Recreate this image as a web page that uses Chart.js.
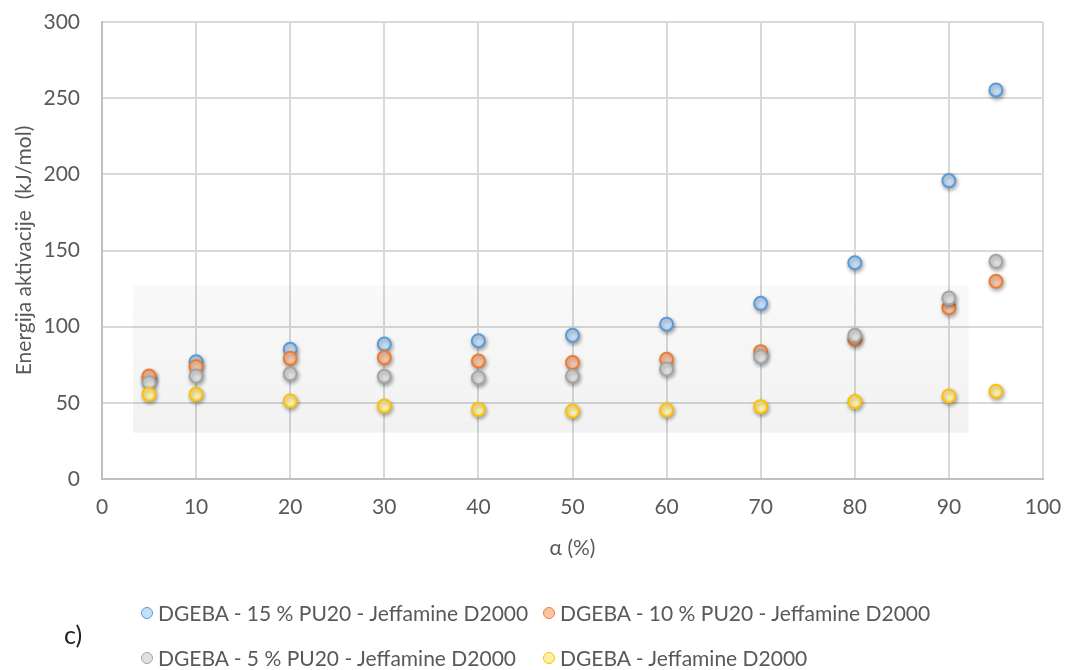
<!DOCTYPE html>
<html>
<head>
<meta charset="utf-8">
<script src="https://cdn.jsdelivr.net/npm/chart.js@4.4.1/dist/chart.umd.min.js"></script>
<style>
  body { margin: 0; background: #fff; }
  #wrap { position: relative; width: 1067px; height: 670px; font-family: Lato, "Open Sans", sans-serif; }
  #chart { position: absolute; left: 0; top: 0; }
  .item { position: absolute; height: 26px; line-height: 26px; display: flex; align-items: center;
          font-size: 21px; color: #595959; white-space: nowrap; }
  .dot { width: 10px; height: 10px; border-radius: 50%; border: 1.5px solid; margin-right: 5px; }
  #tag { position: absolute; left: 64px; top: 619px; font-size: 25px; line-height: 30px; color: #222; }
</style>
</head>
<body>
<div id="wrap">
  <canvas id="chart" width="1067" height="670"></canvas>
  <div id="legend"></div>
  <div id="tag">c)</div>
</div>
<script>
// conversion degree (%)
const alpha = [5, 10, 20, 30, 40, 50, 60, 70, 80, 90, 95];

// activation energy (kJ/mol) for each formulation
const ea15 = [66.5, 77.0, 85.1, 88.6, 90.8, 94.3, 101.6, 115.3, 142.0, 195.9, 255.4];
const ea10 = [67.6, 73.7, 79.2, 79.7, 77.5, 76.4, 78.6, 83.6, 91.7, 112.5, 129.8];
const ea5  = [63.2, 67.6, 69.1, 67.4, 66.5, 67.6, 72.2, 80.3, 94.3, 118.8, 142.9];
const ea0  = [55.6, 55.6, 51.2, 47.9, 45.7, 44.6, 45.3, 47.5, 50.8, 54.5, 57.6];

const seriesNames = [
  'DGEBA - 15 % PU20 - Jeffamine D2000',
  'DGEBA - 10 % PU20 - Jeffamine D2000',
  'DGEBA - 5 % PU20 - Jeffamine D2000',
  'DGEBA - Jeffamine D2000'
];

const xTicks = [0, 10, 20, 30, 40, 50, 60, 70, 80, 90, 100];
const yTicks = [0, 50, 100, 150, 200, 250, 300];

const lineColors = ['#5b9bd5', '#ed7d31', '#a5a5a5', '#ffc000'];
const fillColors = ['#c6def6', '#f8c4a8', '#e0e0e0', '#fff0a6'];

const txt = '#595959';
const font = { family: 'Lato, "Open Sans", sans-serif', size: 21 };

// pale panel behind the low-energy points (data units)
const panel = { x0: 3.3, x1: 92.1, y0: 30.4, y1: 127.4 };

const panelPlugin = {
  id: 'panel',
  beforeDatasetsDraw(chart) {
    const { ctx, scales: { x, y } } = chart;
    const l = x.getPixelForValue(panel.x0), r = x.getPixelForValue(panel.x1);
    const t = y.getPixelForValue(panel.y1), b = y.getPixelForValue(panel.y0);
    const g = ctx.createLinearGradient(0, t, 0, b);
    g.addColorStop(0, 'rgba(0,0,0,0.025)');
    g.addColorStop(1, 'rgba(0,0,0,0.05)');
    ctx.save();
    ctx.fillStyle = g;
    ctx.fillRect(l, t, r - l, b - t);
    ctx.restore();
  }
};

const shadowPlugin = {
  id: 'pointShadow',
  beforeDatasetDraw(chart) {
    const c = chart.ctx;
    c.save();
    c.shadowColor = 'rgba(0,0,0,0.35)';
    c.shadowBlur = 4;
    c.shadowOffsetX = 1;
    c.shadowOffsetY = 2;
  },
  afterDatasetDraw(chart) {
    chart.ctx.restore();
  }
};

const series = [ea15, ea10, ea5, ea0];

// tick marks are kept invisible; their length only spaces the labels from the axis
const gridOpts = len => ({
  color: '#d9d9d9', lineWidth: 2, drawTicks: true, tickLength: len, tickColor: 'rgba(0,0,0,0)'
});

const chart = new Chart(document.getElementById('chart'), {
  type: 'scatter',
  data: {
    datasets: series.map((vals, i) => ({
      label: seriesNames[i],
      data: alpha.map((a, k) => ({ x: a, y: vals[k] })),
      pointRadius: 6.5,
      pointHoverRadius: 6.5,
      pointBorderWidth: 2,
      borderColor: lineColors[i],
      backgroundColor: fillColors[i],
      order: series.length - i
    }))
  },
  options: {
    responsive: false,
    animation: false,
    layout: { padding: { top: 22, right: 24, bottom: 100, left: 0 } },
    plugins: {
      legend: { display: false },
      tooltip: { enabled: false }
    },
    scales: {
      x: {
        type: 'linear',
        min: xTicks[0],
        max: xTicks[xTicks.length - 1],
        afterBuildTicks: s => { s.ticks = xTicks.map(v => ({ value: v })); },
        afterFit: s => { s.height = 91; },
        ticks: { color: txt, font, padding: 0, maxRotation: 0 },
        grid: gridOpts(16),
        border: { color: '#bfbfbf', width: 2 },
        title: { display: true, text: 'α (%)', color: txt, font, padding: { top: 0, bottom: 9 } }
      },
      y: {
        type: 'linear',
        min: yTicks[0],
        max: yTicks[yTicks.length - 1],
        afterBuildTicks: s => { s.ticks = yTicks.map(v => ({ value: v })); },
        afterFit: s => { s.width = 102; },
        ticks: { color: txt, font, padding: 0 },
        grid: gridOpts(22),
        border: { color: '#bfbfbf', width: 2 },
        title: { display: true, text: 'Energija aktivacije  (kJ/mol)', color: txt, font, padding: { top: 12, bottom: 0 } }
      }
    }
  },
  plugins: [panelPlugin, shadowPlugin]
});

// two-column legend under the plot
const legend = document.getElementById('legend');
const colLeft = [141, 543];
const rowTop = [600, 645];
chart.data.datasets.forEach((ds, i) => {
  const item = document.createElement('div');
  item.className = 'item';
  item.style.left = colLeft[i % 2] + 'px';
  item.style.top = rowTop[Math.floor(i / 2)] + 'px';
  const dot = document.createElement('span');
  dot.className = 'dot';
  dot.style.borderColor = ds.borderColor;
  dot.style.background = ds.backgroundColor;
  const label = document.createElement('span');
  label.textContent = ds.label;
  item.appendChild(dot);
  item.appendChild(label);
  legend.appendChild(item);
});
</script>
</body>
</html>
